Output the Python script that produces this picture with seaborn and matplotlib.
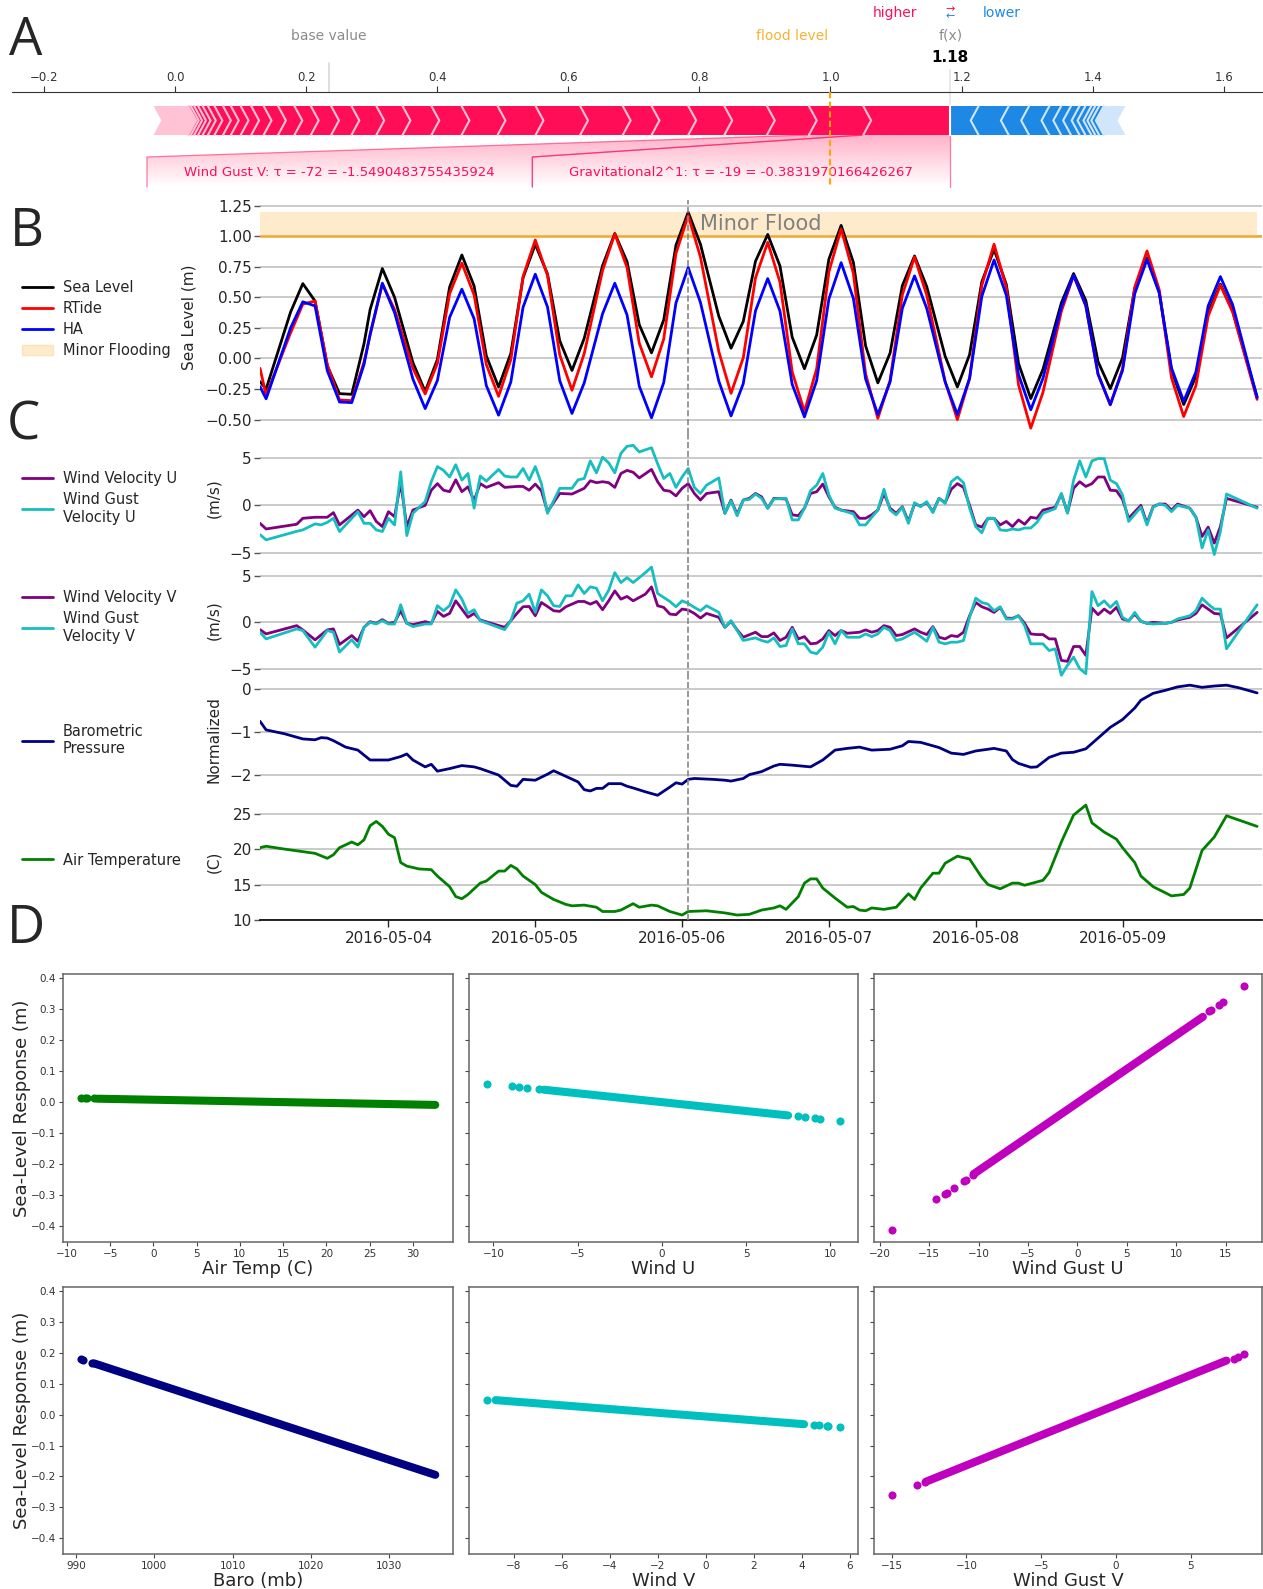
import numpy as np
import pandas as pd
import matplotlib
matplotlib.use("Agg")
import matplotlib.pyplot as plt
import matplotlib.dates as mdates
import matplotlib.ticker as mticker
from matplotlib.patches import Polygon, Patch
from matplotlib.lines import Line2D
from matplotlib.colors import to_rgb
import seaborn as sns

sns.set_style("white")
plt.rcParams["font.family"] = ["DejaVu Sans"]

# ---------------- A: force plot ----------------
base_value = 0.234
red_effects = [0.133, 0.083, 0.064, 0.065, 0.055, 0.056, 0.044, 0.065, 0.068, 0.058,
               0.055, 0.046, 0.044, 0.040, 0.038, 0.031, 0.031, 0.025, 0.025, 0.022,
               0.019, 0.016, 0.015, 0.012, 0.013, 0.010, 0.008, 0.007, 0.006, 0.005, 0.004]
red_small = 0.053
blue_effects = [0.043, 0.046, 0.031, 0.031, 0.018, 0.015, 0.013, 0.009, 0.009, 0.006, 0.006, 0.007]
blue_small = 0.033
flood_level = 1.0
force_ticks = [-0.2, 0.0, 0.2, 0.4, 0.6, 0.8, 1.0, 1.2, 1.4, 1.6]
force_labels = ["Wind Gust V: τ = -72 = -1.5490483755435924",
                "Gravitational2^1: τ = -19 = -0.3831970166426267"]

# ---------------- B: sea level ----------------
START = pd.Timestamp("2016-05-03")
event_hour = 73
minor_flood_top = 1.2
hours_tide = [3, 4, 8, 10, 12, 14, 16, 18, 20, 21, 23, 25, 28, 30, 32, 34, 36, 38, 40, 42,
              44, 46, 48, 50, 52, 54, 56, 59, 61, 63, 65, 67, 69, 71, 73, 75, 78, 80, 82, 84,
              86, 88, 90, 92, 94, 96, 98, 100, 102, 104, 106, 108, 110, 112, 115, 117, 119, 121, 123, 125,
              127, 129, 131, 134, 136, 138, 140, 142, 144, 146, 148, 150, 152, 154, 156, 158, 160, 162, 166]
sea_level = [-0.19, -0.25, 0.38, 0.613, 0.47, -0.06, -0.288, -0.293, 0.12, 0.40,
             0.736, 0.50, -0.034, -0.27, -0.008, 0.585, 0.847, 0.593, 0.021, -0.233,
             0.041, 0.66, 0.934, 0.691, 0.145, -0.098, 0.165, 0.76, 1.023, 0.793,
             0.276, 0.046, 0.316, 0.927, 1.197, 0.935, 0.346, 0.084, 0.303, 0.796,
             1.015, 0.757, 0.174, -0.084, 0.192, 0.813, 1.089, 0.786, 0.103, -0.20,
             0.044, 0.595, 0.839, 0.587, 0.019, -0.233, 0.032, 0.628, 0.893, 0.606,
             -0.041, -0.328, -0.088, 0.455, 0.695, 0.474, -0.026, -0.247, 0.005, 0.573,
             0.825, 0.543, -0.095, -0.377, -0.146, 0.377, 0.608, 0.391, -0.315]
rtide = [-0.08, -0.30, 0.21, 0.445, 0.47, -0.05, -0.34, -0.345, -0.03, 0.19,
         0.61, 0.40, -0.08, -0.29, -0.04, 0.53, 0.78, 0.52, -0.05, -0.31,
         -0.01, 0.67, 0.97, 0.68, 0.03, -0.26, 0.04, 0.72, 1.02, 0.745,
         0.125, -0.15, 0.16, 0.86, 1.17, 0.83, 0.057, -0.285, 0.005, 0.66,
         0.95, 0.625, -0.11, -0.435, -0.084, 0.709, 1.06, 0.696, -0.126, -0.49,
         -0.18, 0.52, 0.83, 0.517, -0.187, -0.50, -0.163, 0.598, 0.935, 0.581,
         -0.216, -0.57, -0.276, 0.386, 0.68, 0.43, -0.13, -0.38, -0.084, 0.584,
         0.88, 0.562, -0.157, -0.475, -0.222, 0.347, 0.60, 0.38, -0.335]
ha = [-0.23, -0.33, 0.25, 0.464, 0.43, -0.10, -0.356, -0.361, -0.05, 0.20,
      0.616, 0.375, -0.169, -0.41, -0.18, 0.337, 0.567, 0.325, -0.222, -0.464,
      -0.193, 0.419, 0.69, 0.422, -0.182, -0.45, -0.2, 0.366, 0.616, 0.357,
      -0.227, -0.486, -0.197, 0.455, 0.744, 0.459, -0.185, -0.47, -0.206, 0.39,
      0.654, 0.388, -0.212, -0.478, -0.181, 0.487, 0.784, 0.492, -0.167, -0.459,
      -0.192, 0.409, 0.676, 0.409, -0.192, -0.459, -0.162, 0.509, 0.806, 0.518,
      -0.132, -0.42, -0.161, 0.422, 0.681, 0.432, -0.128, -0.377, -0.098, 0.531,
      0.81, 0.537, -0.077, -0.35, -0.11, 0.43, 0.67, 0.44, -0.32]

# ---------------- C: drivers ----------------
hours_u = [3, 4, 9, 10, 12, 13, 14, 15, 16, 19, 20, 21, 22, 23, 24, 25, 26, 27, 28, 30,
           31, 32, 33, 34, 35, 36, 37, 38, 39, 40, 42, 43, 44, 45, 46, 47, 48, 49, 50, 52,
           54, 55, 56, 57, 58, 59, 60, 61, 62, 63,
           64, 65, 67, 68, 69, 70, 71, 72, 73, 74, 75, 76, 78, 79, 80, 81, 82, 83, 84, 85,
           86, 87, 89, 90, 91, 92, 93, 94, 95, 96, 97, 98, 100, 101, 102, 103, 104, 105, 106, 107,
           108, 109, 110, 111, 112, 113, 114, 115, 116, 117, 118, 119, 120, 121, 122, 123, 124, 125, 126, 127,
           128, 129, 130, 131, 133, 134, 135, 136, 137, 138, 139, 140, 141, 142, 143, 144, 145, 147, 148, 149,
           150, 151, 152, 153, 155, 156, 157, 158, 159, 160, 161, 166]
wind_u = [-1.9, -2.5, -2.0, -1.37, -1.26, -1.26, -1.26, -0.77, -2.07, -0.5,
          -1.2, -0.56, -1.7, -2.25, -0.67, -1.2, 2.4, -2.25, -0.5, 0.0,
          1.6, 2.3, 1.6, 1.45, 2.7, 1.45, 1.96, 0.5, 2.3, 1.9,
          2.4, 1.9, 1.95, 2.0, 2.0, 1.6, 2.25, 1.55, -0.67, 1.26,
          1.2, 1.5, 1.8, 2.6, 2.4, 2.5, 2.4, 1.9, 3.37, 3.7,
          3.5, 2.9, 3.8, 2.5, 1.6, 1.5, 1.0, 1.8, 2.3, 1.26,
          0.56, 1.26, 1.44, -0.84, 0.56, -0.95, 0.56, 0.74, 1.26, 0.9,
          -0.3, 0.74, 0.67, -1.0, -1.1, -0.3, 1.26, 1.44, 2.25, 0.9,
          -0.2, -0.5, -0.67, -1.37, -1.37, -1.0, -0.5, 1.26, -0.3, -0.84,
          -0.14, -1.7, 0.14, -0.07, 0.28, -0.67, 0.74, 0.28, 1.7, 2.3,
          1.9, 0.0, -2.07, -2.3, -1.37, -1.37, -2.07, -1.7, -2.25, -1.54,
          -2.0, -1.26, -1.37, -0.5, -0.2, 1.2, -0.77, 1.8, 2.5, 2.0,
          2.3, 3.0, 3.0, 1.6, 1.55, 0.63, -1.37, 0.0, -1.9, -0.14,
          0.14, 0.14, -0.5, 0.14, -0.3, -1.26, -3.3, -2.3, -4.0, -2.25,
          0.74, -0.2]
gust_u = [-3.1, -3.65, -2.75, -2.6, -1.96, -2.07, -1.8, -1.37, -2.77, -0.67,
          -1.9, -1.9, -2.6, -2.77, -1.37, -2.07, 3.54, -3.2, -0.84, 0.4,
          2.5, 4.1, 3.7, 3.0, 4.3, 2.67, 3.37, -0.3, 3.1, 2.56,
          3.8, 3.1, 3.0, 3.0, 3.9, 2.67, 4.1, 2.3, -0.84, 1.8,
          1.8, 2.7, 2.84, 4.7, 3.44, 5.1, 4.5, 3.44, 5.5, 6.25,
          6.35, 5.65, 6.1, 4.4, 2.84, 3.37, 1.9, 3.0, 3.9, 1.9,
          1.26, 2.14, 2.9, -0.84, 0.49, -1.1, 0.56, 0.63, 1.2, 0.74,
          -0.3, 0.67, 0.74, -1.54, -1.54, -0.3, 1.55, 2.14, 3.37, 1.1,
          -0.3, -0.5, -0.9, -2.07, -2.07, -1.26, -0.5, 1.7, -0.5, -1.0,
          -0.2, -1.9, 0.28, -0.14, 0.39, -0.77, 0.74, 0.2, 2.5, 3.0,
          2.4, -0.3, -2.25, -2.9, -1.37, -1.37, -2.6, -2.67, -2.5, -2.6,
          -2.4, -2.4, -1.8, -0.84, -0.35, 1.26, -0.84, 2.67, 4.7, 3.0,
          4.7, 4.95, 4.95, 2.67, 2.3, 1.1, -1.7, -0.2, -2.07, -0.2,
          0.14, 0.0, -0.67, 0.0, -0.3, -1.26, -4.5, -2.6, -5.2, -2.77,
          1.2, -0.3]

hours_v = [3, 4, 9, 10, 12, 14, 15, 16, 18, 19, 20, 21, 22, 23, 24, 25, 26, 27, 28, 30,
           31, 32, 33, 34, 35, 36, 37, 38, 39, 43, 44, 45, 46, 47, 48, 49, 50, 51, 52, 53,
           54, 55, 56, 57, 58, 59, 60, 61, 62, 63,
           64, 65, 66, 67, 68, 69, 70, 71, 72, 73, 74, 75, 76, 78, 79, 80, 81, 82, 84, 85,
           86, 87, 88, 89, 90, 91, 92, 93, 94, 95, 96, 97, 98, 99, 101, 102, 103, 104, 105, 106,
           107, 108, 110, 111, 112, 113, 114, 115, 116, 117, 118, 119, 120, 121, 122, 123, 124, 125, 126, 127,
           128, 129, 130, 131, 132, 133, 134, 135, 136, 137, 138, 139, 140, 141, 142, 143, 144, 145, 146, 147,
           148, 149, 151, 152, 153, 155, 156, 157, 158, 159, 160, 161, 166]
wind_v = [-0.79, -1.25, -0.36, -0.82, -1.89, -0.82, -0.71, -2.39, -1.43, -2.04,
          -0.54, 0.07, -0.11, 0.29, -0.11, 0.0, 1.25, -0.11, -0.25, 0.07,
          -0.11, 1.18, 0.64, 0.96, 2.32, 1.43, 0.54, 0.96, 0.25, -0.54,
          0.18, 0.96, 1.68, 1.71, 0.71, 2.14, 1.71, 1.25, 1.18, 1.68,
          1.96, 2.25, 2.25, 1.96, 2.25, 1.36, 2.32, 3.39, 2.5, 2.79,
          2.32, 2.68, 3.04, 3.82, 1.79, 1.61, 0.89, 0.82, 1.43, 1.32,
          0.96, 0.46, 0.96, 0.54, -0.54, 0.11, -0.82, -1.61, -1.07, -1.54,
          -1.54, -1.14, -1.96, -1.61, -0.54, -1.79, -1.54, -2.32, -2.25, -1.79,
          -0.89, -1.43, -0.89, -1.18, -1.07, -0.82, -1.07, -0.89, -0.36, -0.54,
          -1.43, -1.32, -0.71, -1.07, -1.32, -0.46, -1.61, -1.79, -1.43, -1.54,
          -1.07, 0.71, 2.14, 1.68, 1.43, 1.07, 1.61, 0.46, 0.43, 0.71,
          -0.11, -1.25, -1.32, -1.32, -1.79, -1.79, -4.11, -4.21, -2.61, -2.61,
          -3.57, 1.54, 0.82, 1.43, 0.96, 1.61, 0.36, 0.18, 0.89, 0.11,
          -0.11, 0.0, -0.11, 0.0, 0.25, 0.54, 0.96, 1.89, 1.43, 0.96,
          0.89, -1.68, 1.07]
gust_v = [-1.07, -1.79, -0.71, -0.89, -2.68, -0.89, -1.07, -3.21, -1.89, -2.68,
          -0.54, 0.0, -0.18, 0.18, -0.18, -0.18, 1.89, -0.11, -0.46, -0.18,
          -0.18, 1.79, 1.25, 1.79, 3.5, 2.5, 0.96, 1.36, 0.18, -0.79,
          0.18, 2.07, 2.32, 3.04, 1.07, 3.5, 2.86, 1.79, 1.71, 2.86,
          2.86, 4.04, 3.11, 3.82, 3.68, 2.32, 3.46, 5.36, 4.29, 4.82,
          4.29, 4.82, 5.36, 5.96, 3.11, 2.68, 2.25, 1.68, 2.32, 2.04,
          1.61, 1.25, 1.79, 1.07, -0.54, 0.18, -0.89, -1.96, -1.68, -1.96,
          -2.14, -1.68, -2.61, -2.5, -0.71, -2.32, -2.32, -3.21, -3.39, -2.68,
          -1.07, -2.32, -0.89, -1.61, -1.61, -1.25, -1.54, -1.25, -0.54, -0.89,
          -1.96, -1.79, -1.07, -1.54, -2.04, -0.54, -2.14, -2.32, -2.14, -2.14,
          -1.96, 0.54, 2.61, 2.14, 1.96, 1.25, 1.68, 0.36, 0.36, 0.71,
          -0.36, -2.32, -2.32, -2.32, -3.04, -2.86, -5.71, -4.64, -3.75, -5.0,
          -5.54, 3.32, 1.79, 2.32, 1.61, 2.25, 0.54, 0.11, 1.07, 0.11,
          -0.11, -0.18, -0.11, 0.0, 0.36, 0.71, 1.25, 2.61, 1.96, 1.43,
          1.43, -2.86, 1.89]

hours_baro = [3, 4, 7, 10, 12, 13, 14, 15, 17, 19, 21, 24, 26, 27, 28, 30, 31, 32, 34, 36,
              38, 39, 42, 44, 45, 46, 48, 50, 51, 53, 55, 56, 57, 58, 59, 60, 62, 63,
              64, 66, 68, 70, 71, 72, 73, 74, 77, 79, 80, 82, 83, 85, 87, 88, 90, 93, 95, 97,
              99, 101, 103, 106, 108, 109, 111, 114, 116, 118, 120, 123, 125, 126, 127, 129, 130, 132,
              134, 136, 138, 140, 142, 144, 146, 147, 149, 151, 153, 155, 157, 159, 161, 163, 166]
baro = [-0.74, -0.94, -1.03, -1.15, -1.17, -1.12, -1.13, -1.19, -1.34, -1.41,
        -1.64, -1.64, -1.56, -1.5, -1.64, -1.8, -1.74, -1.9, -1.84, -1.77,
        -1.8, -1.84, -1.99, -2.23, -2.25, -2.09, -2.11, -1.97, -1.89, -2.02,
        -2.15, -2.33, -2.36, -2.3, -2.3, -2.19, -2.19, -2.25,
        -2.29, -2.38, -2.46, -2.27, -2.17, -2.2, -2.09, -2.07, -2.09, -2.11,
        -2.13, -2.07, -1.98, -1.91, -1.78, -1.74, -1.76, -1.8, -1.64, -1.41,
        -1.37, -1.34, -1.41, -1.39, -1.31, -1.21, -1.23, -1.35, -1.48, -1.51,
        -1.43, -1.37, -1.43, -1.63, -1.72, -1.81, -1.8, -1.58, -1.48, -1.46,
        -1.38, -1.13, -0.88, -0.7, -0.43, -0.25, -0.09, -0.02, 0.06, 0.1,
        0.05, 0.08, 0.1, 0.04, -0.08]

hours_temp = [3, 4, 7, 12, 14, 15, 16, 18, 19, 20, 21, 22, 23, 24, 25, 26, 27, 29, 31, 32,
              34, 35, 36, 37, 39, 40, 42, 43, 44, 45, 46, 48, 49, 51, 53, 54, 56, 58, 59, 61,
              62, 64, 65, 67, 68, 70, 72, 73, 76, 79, 81, 83, 85, 87, 88, 89, 91, 92, 93, 94,
              95, 97, 99, 100, 101, 102, 103, 105, 107, 109, 110, 111, 113, 114, 115, 117, 119, 121, 122, 124,
              126, 127, 128, 131, 132, 134, 136, 138, 139, 141, 143, 144, 146, 147, 149, 152, 154, 155, 157, 159,
              161, 166]
air_temp = [20.2, 20.4, 20.0, 19.4, 18.7, 19.2, 20.2, 21.0, 20.6, 21.3,
            23.3, 23.9, 23.2, 22.1, 21.6, 18.1, 17.6, 17.2, 17.1, 16.2,
            14.7, 13.3, 13.0, 13.6, 15.2, 15.5, 16.9, 16.9, 17.7, 17.2,
            16.2, 15.0, 13.9, 12.9, 12.2, 12.0, 12.1, 11.8, 11.2, 11.2,
            11.4, 12.3, 11.8, 12.1, 12.0, 11.2, 10.7, 11.2, 11.3, 11.0,
            10.7, 10.8, 11.4, 11.7, 12.0, 11.5, 13.3, 15.2, 15.8, 15.8,
            14.5, 13.1, 11.8, 11.9, 11.4, 11.3, 11.7, 11.5, 11.8, 13.7,
            12.9, 14.5, 16.6, 16.6, 18.0, 19.0, 18.6, 16.0, 15.0, 14.4,
            15.2, 15.2, 14.9, 15.6, 16.7, 21.0, 24.8, 26.2, 23.7, 22.4,
            21.4, 20.2, 18.1, 16.2, 14.7, 13.4, 13.6, 14.5, 19.8, 21.7,
            24.7, 23.2]

# ---------------- D: partial responses ----------------
air_pts_x = [-8.4, -7.9, -7.7, -6.9]
air_pts_y = [0.013, 0.013, 0.013, 0.012]
air_band_x = [-6.5, 32.6]
air_band_y = [0.011, -0.009]

windu_pts_x = [-10.4, -8.9, -8.5, -8.0, -7.3, 8.1, 8.5, 9.1, 9.4, 10.6]
windu_pts_y = [0.060, 0.051, 0.049, 0.046, 0.043, -0.045, -0.047, -0.052, -0.054, -0.061]
windu_band_x = [-7.0, 7.5]
windu_band_y = [0.040, -0.043]

gustu_pts_x = [-18.8, -14.3, -13.4, -13.2, -12.5, -11.5, -11.3, -10.6, 13.3, 13.5, 14.3, 14.7, 16.9]
gustu_pts_y = [-0.412, -0.314, -0.296, -0.293, -0.276, -0.254, -0.250, -0.234, 0.295, 0.298, 0.313, 0.322, 0.374]
gustu_band_x = [-10.5, 12.7]
gustu_band_y = [-0.232, 0.275]

baro_pts_x = [990.6, 990.9, 992.0]
baro_pts_y = [0.179, 0.177, 0.168]
baro_band_x = [992.3, 1035.9]
baro_band_y = [0.166, -0.195]

windv_pts_x = [-9.13, 4.5, 4.7, 5.03, 5.1, 5.6]
windv_pts_y = [0.049, -0.033, -0.034, -0.036, -0.036, -0.039]
windv_band_x = [-8.76, 4.09]
windv_band_y = [0.047, -0.031]

gustv_pts_x = [-15.0, -13.3, -12.8, 7.9, 8.2, 8.6]
gustv_pts_y = [-0.260, -0.228, -0.219, 0.181, 0.188, 0.195]
gustv_band_x = [-12.7, 7.4]
gustv_band_y = [-0.217, 0.175]

# ============================================================
W, H = 1263, 1589
fig = plt.figure(figsize=(W / 100, H / 100), dpi=100)


def rect(x0, y0, x1, y1):
    return [x0 / W, 1 - y1 / H, (x1 - x0) / W, (y1 - y0) / H]


def hrs(h):
    return START + pd.to_timedelta(np.asarray(h, dtype=float), unit="h")


RED, RED_L = "#FF0D57", "#FFC3D5"
BLUE, BLUE_L = "#1E88E5", "#D1E6FA"

# ---------------- panel A ----------------
axA = fig.add_axes(rect(12, 92, 1263, 188))
axA.patch.set_alpha(0)
fx = base_value + sum(red_effects) + red_small - sum(blue_effects) - blue_small
y0, y1 = 106, 135
ym = (y0 + y1) / 2
d = 0.012

red_end = fx - sum(red_effects) - red_small
axA.add_patch(Polygon([(red_end, y0), (fx, y0), (fx, y1), (red_end, y1), (red_end + d, ym)],
                      closed=True, fc=RED_L, ec="none", zorder=1))
bounds = [fx]
right = fx
for i, w in enumerate(red_effects):
    left = right - w
    tip = [(right, ym)] if i == 0 else [(right + d, ym)]
    pts = [(left, y0), (right, y0)] + tip + [(right, y1), (left, y1), (left + d, ym)]
    axA.add_patch(Polygon(pts, closed=True, fc=RED, ec="none", zorder=2))
    axA.plot([left, left + d, left], [y0, ym, y1], color=RED_L, lw=1.5, zorder=3)
    bounds.append(left)
    right = left

blue_end = fx + sum(blue_effects) + blue_small
axA.add_patch(Polygon([(fx, y0), (blue_end, y0), (blue_end - d, ym), (blue_end, y1), (fx, y1)],
                      closed=True, fc=BLUE_L, ec="none", zorder=1))
left = fx
for i, w in enumerate(blue_effects):
    right = left + w
    tip = [(left, ym)] if i == 0 else [(left - d, ym)]
    pts = [(left, y0), (right, y0), (right - d, ym), (right, y1), (left, y1)] + tip
    axA.add_patch(Polygon(pts, closed=True, fc=BLUE, ec="none", zorder=2))
    axA.plot([right, right - d, right], [y0, ym, y1], color=BLUE_L, lw=1.5, zorder=3)
    left = right

axA.plot([fx, fx], [y0, y1], color="white", lw=1.5, zorder=4)
axA.plot([fx, fx], [70, y0], color="#E4E4E4", lw=1.2, zorder=0, clip_on=False)
axA.plot([base_value, base_value], [63, 92], color="#D8D8D8", lw=1.2, clip_on=False)

# label callouts below the bar
box_top, box_bot = 157, 187
split = 0.545
callouts = [(force_labels[1], bounds[1], bounds[0], split, fx),
            (force_labels[0], bounds[2], bounds[1], -0.043, split)]
grad = np.zeros((64, 1, 4))
grad[:, 0, :3] = to_rgb(RED)
grad[:, 0, 3] = np.linspace(0.32, 0.0, 64)
for text, sl, sr, bl, br in callouts:
    poly = Polygon([(sl, y1), (sr, y1), (br, box_top), (br, box_bot), (bl, box_bot), (bl, box_top)],
                   closed=True, fc="none", ec="none")
    axA.add_patch(poly)
    im = axA.imshow(grad, extent=[min(sl, bl), max(sr, br), box_bot, y1], aspect="auto",
                    origin="upper", zorder=1, interpolation="bilinear")
    im.set_clip_path(poly)
    axA.plot([bl, bl, sl], [box_bot, box_top, y1], color=RED, lw=0.9, alpha=0.55, zorder=2)
    axA.plot([br, br, sr], [box_bot, box_top, y1], color=RED, lw=0.9, alpha=0.55, zorder=2)
    axA.text((bl + br) / 2, 173, text, ha="center", va="center", color=RED, fontsize=9.5)

axA.plot([flood_level, flood_level], [92, 187], color="#FFA500", ls="--", dashes=(3, 1.6),
         lw=1.5, zorder=6)

axA.set_xlim(-0.249, 1.66)
axA.set_ylim(188, 92)
for s in ["left", "right", "bottom"]:
    axA.spines[s].set_visible(False)
axA.spines["top"].set_color("#333333")
axA.xaxis.tick_top()
axA.set_xticks(force_ticks)
axA.set_yticks([])
axA.tick_params(axis="x", labelsize=8.5, length=4, pad=2, colors="#333333")

axA.text(base_value, 35.5, "base value", ha="center", va="center", color="#8C8C8C", fontsize=10)
axA.text(flood_level - 0.004, 35.5, "flood level", ha="right", va="center", color="#F5B335", fontsize=10)
axA.text(fx, 35.5, "f(x)", ha="center", va="center", color="#8C8C8C", fontsize=10)
axA.text(fx, 58, f"{fx:.2f}", ha="center", va="center", color="black", fontsize=11, fontweight="bold")
axA.text(fx - 0.05, 13.4, "higher", ha="right", va="center", color=RED, fontsize=10)
axA.text(fx + 0.05, 13.4, "lower", ha="left", va="center", color=BLUE, fontsize=10)
axA.text(fx, 9.5, "→", ha="center", va="center", color=RED, fontsize=8)
axA.text(fx, 16.5, "←", ha="center", va="center", color=BLUE, fontsize=8)

# ---------------- panels B and C ----------------
xlim = hrs([3, 166.8])
GRID = "#C6C6C6"


def style_ts(ax, bottom=False):
    ax.set_xlim(xlim)
    for s in ["left", "right", "top", "bottom"]:
        ax.spines[s].set_visible(False)
    ax.yaxis.grid(True, color=GRID, lw=1.3)
    ax.xaxis.grid(False)
    ax.set_axisbelow(True)
    ax.tick_params(axis="y", left=True, length=4, width=1, color="#555555", labelsize=11, pad=2)
    ax.set_xlabel("")
    if bottom:
        ax.spines["bottom"].set_visible(True)
        ax.spines["bottom"].set_color("black")
        ax.spines["bottom"].set_linewidth(1.2)
        ax.xaxis.set_major_locator(mdates.DayLocator())
        ax.xaxis.set_major_formatter(mdates.DateFormatter("%Y-%m-%d"))
        ax.tick_params(axis="x", bottom=True, length=5, width=1, labelsize=11, pad=3)
    else:
        ax.tick_params(axis="x", bottom=False, labelbottom=False)
    ax.axvline(hrs([event_hour])[0], color="#888888", ls="--", lw=1.2, zorder=5)


def side_legend(ax, handles, labels, yc):
    ax.legend(handles, labels, loc="center left", bbox_to_anchor=(22 / W, 1 - yc / H),
              bbox_transform=fig.transFigure, frameon=False, fontsize=10.5, handlelength=2.1,
              handletextpad=0.7, labelspacing=0.42, borderaxespad=0, borderpad=0)


def ylab(ax, text, xpix):
    ax.set_ylabel(text, fontsize=11)
    ax.yaxis.set_label_coords((xpix - 260) / (1262 - 260), 0.5)


# B
axB = fig.add_axes(rect(260, 200, 1262, 434))
tB = hrs(hours_tide)
axB.fill_between(tB, flood_level, minor_flood_top, color="#FDEBCB", lw=0, zorder=1)
axB.axhline(flood_level, color="#F0A830", lw=1.8, zorder=2)
sns.lineplot(x=tB, y=sea_level, ax=axB, color="black", lw=2, legend=False, zorder=3)
sns.lineplot(x=tB, y=rtide, ax=axB, color="red", lw=2, legend=False, zorder=3)
sns.lineplot(x=tB, y=ha, ax=axB, color="blue", lw=2, legend=False, zorder=3)
axB.text(hrs([75])[0], 1.1, "Minor Flood", fontsize=15, color="#808080", va="center", ha="left")
axB.set_ylim(-0.618, 1.297)
axB.yaxis.set_major_locator(mticker.MultipleLocator(0.25))
style_ts(axB)
ylab(axB, "Sea Level (m)", 196)
axB.yaxis.set_major_formatter(mticker.FuncFormatter(lambda v, p: f"{v:.2f}".replace("-", "\u2212")))
side_legend(axB,
            [Line2D([], [], color="black", lw=2), Line2D([], [], color="red", lw=2),
             Line2D([], [], color="blue", lw=2), Patch(fc="#FDEBCB", ec="#FDE3B5")],
            ["Sea Level", "RTide", "HA", "Minor Flooding"], 319)

PURPLE, CYAN = "#800080", "#17BEBF"

# C1
axC1 = fig.add_axes(rect(260, 434, 1262, 563))
tU = hrs(hours_u)
sns.lineplot(x=tU, y=wind_u, ax=axC1, color=PURPLE, lw=2, legend=False)
sns.lineplot(x=tU, y=gust_u, ax=axC1, color=CYAN, lw=2, legend=False)
axC1.set_ylim(-6.1, 7.55)
axC1.set_yticks([-5, 0, 5])
style_ts(axC1)
ylab(axC1, "(m/s)", 221)
side_legend(axC1, [Line2D([], [], color=PURPLE, lw=2), Line2D([], [], color=CYAN, lw=2)],
            ["Wind Velocity U", "Wind Gust\nVelocity U"], 498)

# C2
axC2 = fig.add_axes(rect(260, 563, 1262, 677))
tV = hrs(hours_v)
sns.lineplot(x=tV, y=wind_v, ax=axC2, color=PURPLE, lw=2, legend=False)
sns.lineplot(x=tV, y=gust_v, ax=axC2, color=CYAN, lw=2, legend=False)
axC2.set_ylim(-5.9, 6.4)
axC2.set_yticks([-5, 0, 5])
style_ts(axC2)
ylab(axC2, "(m/s)", 221)
side_legend(axC2, [Line2D([], [], color=PURPLE, lw=2), Line2D([], [], color=CYAN, lw=2)],
            ["Wind Velocity V", "Wind Gust\nVelocity V"], 617)

# C3
axC3 = fig.add_axes(rect(260, 677, 1262, 803))
sns.lineplot(x=hrs(hours_baro), y=baro, ax=axC3, color="#000080", lw=2, legend=False)
axC3.set_ylim(-2.64, 0.29)
axC3.set_yticks([-2, -1, 0])
style_ts(axC3)
ylab(axC3, "Normalized", 221)
side_legend(axC3, [Line2D([], [], color="#000080", lw=2)], ["Barometric\nPressure"], 740)

# C4
axC4 = fig.add_axes(rect(260, 803, 1262, 920))
sns.lineplot(x=hrs(hours_temp), y=air_temp, ax=axC4, color="green", lw=2, legend=False)
axC4.set_ylim(10, 26.5)
axC4.set_yticks([10, 15, 20, 25])
style_ts(axC4, bottom=True)
ylab(axC4, "(C)", 221)
side_legend(axC4, [Line2D([], [], color="green", lw=2)], ["Air Temperature"], 860)

# ---------------- panel D ----------------
d_cols = [(63, 453), (469, 858), (874, 1262)]
d_rows = [(974, 1242), (1287, 1554)]
d_panels = [
    ("Air Temp (C)", "#008000", air_band_x, air_band_y, air_pts_x, air_pts_y, 5),
    ("Wind U", "#00BFBF", windu_band_x, windu_band_y, windu_pts_x, windu_pts_y, 5),
    ("Wind Gust U", "#BF00BF", gustu_band_x, gustu_band_y, gustu_pts_x, gustu_pts_y, 5),
    ("Baro (mb)", "#000080", baro_band_x, baro_band_y, baro_pts_x, baro_pts_y, 10),
    ("Wind V", "#00BFBF", windv_band_x, windv_band_y, windv_pts_x, windv_pts_y, 2),
    ("Wind Gust V", "#BF00BF", gustv_band_x, gustv_band_y, gustv_pts_x, gustv_pts_y, 5),
]
first = None
for k, (xlabel, col, bx, by, px, py, step) in enumerate(d_panels):
    r, c = divmod(k, 3)
    x0, x1 = d_cols[c]
    yt, yb = d_rows[r]
    ax = fig.add_axes(rect(x0, yt, x1, yb), sharey=first)
    if first is None:
        first = ax
    sns.lineplot(x=bx, y=by, ax=ax, color=col, lw=5.8, legend=False, solid_capstyle="round")
    sns.scatterplot(x=px, y=py, ax=ax, color=col, s=34, linewidth=0)
    ax.xaxis.set_major_locator(mticker.MultipleLocator(step))
    ax.yaxis.set_major_locator(mticker.MultipleLocator(0.1))
    ax.set_xlabel(xlabel, fontsize=13, labelpad=1)
    ax.tick_params(axis="both", labelsize=7.5, length=3, width=0.8, color="#444444",
                   labelcolor="#333333", pad=2, bottom=True, left=True)
    for s in ax.spines.values():
        s.set_visible(True)
        s.set_color("#666666")
        s.set_linewidth(1.1)
    if c == 0:
        ax.set_ylabel("Sea-Level Response (m)", fontsize=13)
        ax.yaxis.set_label_coords((31 - x0) / (x1 - x0), 0.5)
    else:
        ax.tick_params(axis="y", labelleft=False)
        ax.set_ylabel("")

# panel letters
for letter, (lx, ly) in {"A": (26, 41), "B": (27, 232), "C": (23, 426), "D": (26, 929)}.items():
    fig.text(lx / W, 1 - ly / H, letter, fontsize=38, family=["Open Sans", "DejaVu Sans"],
             ha="center", va="center")

fig.savefig("out.png", dpi=100)
